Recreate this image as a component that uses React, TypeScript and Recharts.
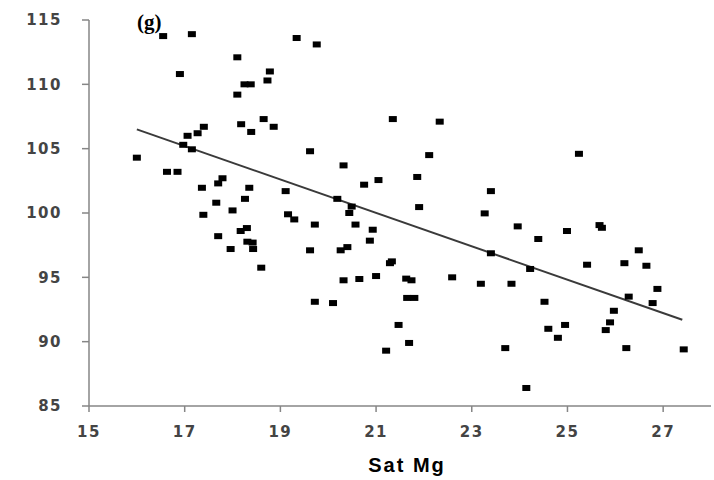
import { ScatterChart, Scatter, XAxis, YAxis, ReferenceLine } from 'recharts'

const satMg = [
  16.55, 17.15, 16.9, 18.1, 18.78, 18.25, 18.38, 18.73, 18.1, 18.18,
  18.39, 18.65, 18.86, 17.4, 17.27, 17.06, 16.97, 17.15, 16.0, 16.63,
  16.85, 17.79, 17.7, 17.36, 18.35, 18.26, 17.66, 18.0, 17.39, 18.3,
  18.17, 17.7, 18.31, 18.42, 18.43, 17.96, 18.6, 19.34, 19.76, 19.62,
  21.35, 22.33, 22.11, 20.32, 20.75, 21.05, 21.86, 19.11, 20.19, 20.49,
  20.44, 21.9, 19.16, 19.29, 19.72, 20.57, 20.93, 20.87, 19.62, 20.26,
  20.4, 21.33, 21.29, 20.32, 20.65, 21.0, 21.63, 21.74, 22.59, 19.72,
  20.1, 21.65, 21.8, 21.47, 21.69, 21.21, 25.24, 23.4, 23.27, 23.96,
  24.39, 24.99, 25.67, 25.72, 23.4, 24.22, 25.41, 26.19, 26.49, 26.65,
  23.19, 23.83, 26.88, 24.52, 26.28, 26.78, 25.97, 25.89, 25.8, 24.6,
  24.95, 24.8, 23.7, 26.23, 27.43, 24.14,
]

const response = [
  113.75, 113.9, 110.8, 112.1, 111.0, 110.0, 110.0, 110.3, 109.2, 106.9,
  106.3, 107.3, 106.7, 106.7, 106.2, 106.0, 105.3, 104.95, 104.3, 103.2,
  103.2, 102.7, 102.3, 101.96, 101.96, 101.1, 100.8, 100.2, 99.86, 98.83,
  98.6, 98.2, 97.77, 97.7, 97.2, 97.2, 95.75, 113.6, 113.1, 104.8,
  107.3, 107.1, 104.5, 103.7, 102.2, 102.56, 102.8, 101.7, 101.1, 100.5,
  100.0, 100.46, 99.9, 99.5, 99.1, 99.1, 98.7, 97.85, 97.1, 97.1,
  97.35, 96.24, 96.1, 94.77, 94.87, 95.1, 94.9, 94.77, 95.0, 93.1,
  93.0, 93.4, 93.4, 91.3, 89.9, 89.3, 104.6, 101.7, 99.97, 98.96,
  97.98, 98.6, 99.06, 98.85, 96.87, 95.65, 95.98, 96.1, 97.1, 95.9,
  94.5, 94.5, 94.1, 93.1, 93.5, 93.0, 92.4, 91.5, 90.9, 91.0,
  91.3, 90.3, 89.5, 89.5, 89.4, 86.4,
]

const trendX = [16.0, 27.4]
const trendY = [106.5, 91.7]

const xTicks = [15, 17, 19, 21, 23, 25, 27]
const yTicks = [85, 90, 95, 100, 105, 110, 115]

const points = satMg.map((x, i) => ({ x, y: response[i] }))

const Square = (props: any) => {
  const { cx, cy } = props
  if (cx == null || cy == null) return null
  return <rect x={cx - 4} y={cy - 3} width={8} height={6} fill="#000" />
}

const tickStyle = {
  fill: '#444',
  fontSize: 15,
  fontWeight: 'bold',
  fontFamily: 'DejaVu Sans',
  letterSpacing: 1.5,
}

export default function App() {
  return (
    <div style={{ position: 'absolute', left: 0, top: 0, width: 714, height: 480, background: '#fff' }}>
      <ScatterChart width={714} height={480} margin={{ top: 20, right: 3, left: 0, bottom: 4 }}>
        <XAxis
          type="number"
          dataKey="x"
          domain={[15, 28]}
          ticks={xTicks}
          height={70}
          tickSize={6}
          tickMargin={14}
          tick={tickStyle}
          axisLine={{ stroke: '#868686', strokeWidth: 1.5 }}
          tickLine={{ stroke: '#868686', strokeWidth: 1.5 }}
          label={{
            value: 'Sat Mg',
            position: 'insideBottom',
            offset: 4,
            dx: 7,
            fill: '#000',
            fontSize: 20,
            fontWeight: 'bold',
            fontFamily: 'Liberation Sans',
            letterSpacing: 2,
          }}
        />
        <YAxis
          type="number"
          dataKey="y"
          domain={[85, 115]}
          ticks={yTicks}
          width={89}
          tickSize={7}
          tickMargin={20}
          tick={tickStyle}
          axisLine={{ stroke: '#868686', strokeWidth: 1.5 }}
          tickLine={{ stroke: '#868686', strokeWidth: 1.5 }}
        />
        <Scatter data={points} shape={<Square />} isAnimationActive={false} />
        <ReferenceLine
          segment={[
            { x: trendX[0], y: trendY[0] },
            { x: trendX[1], y: trendY[1] },
          ]}
          stroke="#3a3a3a"
          strokeWidth={2}
          ifOverflow="visible"
        />
      </ScatterChart>
      <div
        style={{
          position: 'absolute',
          left: 137,
          top: 10,
          fontFamily: 'Liberation Serif',
          fontWeight: 'bold',
          fontSize: 21,
          lineHeight: '24px',
          color: '#000',
        }}
      >
        (g)
      </div>
    </div>
  )
}
